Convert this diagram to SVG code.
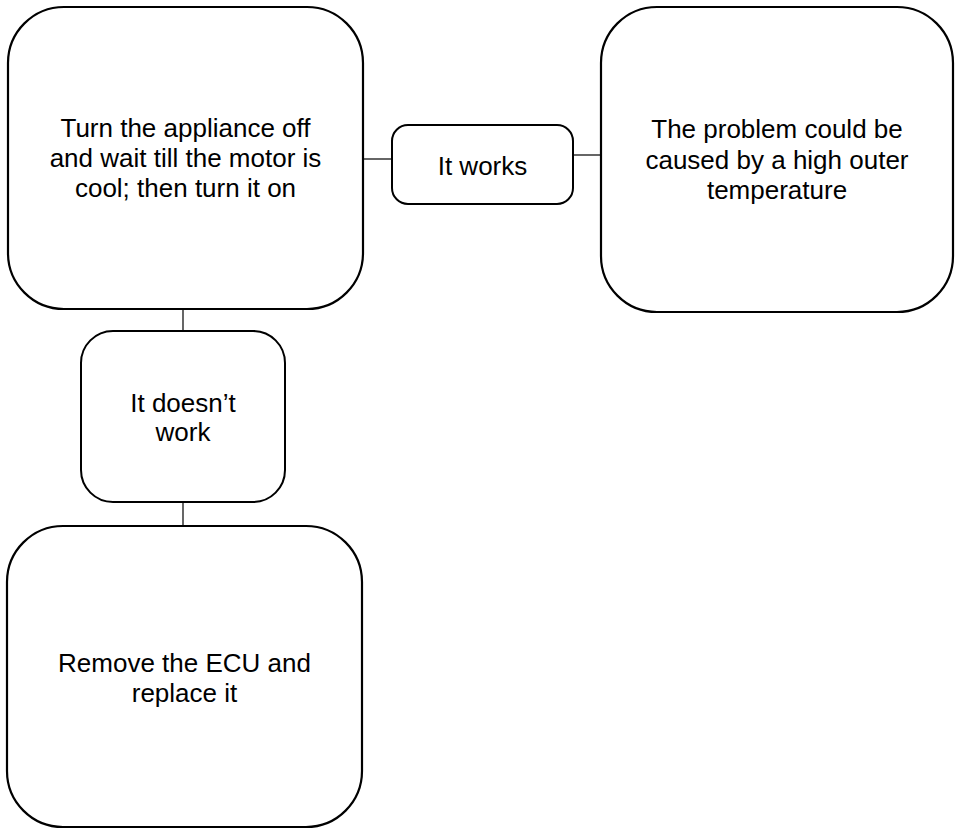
<svg xmlns="http://www.w3.org/2000/svg" width="956" height="829" viewBox="0 0 956 829">
<style>
.box{fill:#fff;stroke:#000;stroke-width:2.2}
.small{fill:#fff;stroke:#000;stroke-width:2}
.t{font-family:"Liberation Sans",Arial,sans-serif;font-size:26px;fill:#000;text-anchor:middle}
.c{stroke:#000;stroke-width:1.2;fill:none}
</style>
<rect width="956" height="829" fill="#fff"/>
<g id="connectors">
<line class="c" x1="363" y1="159" x2="392" y2="159"/>
<line class="c" x1="573" y1="155" x2="601" y2="155"/>
<line class="c" x1="183" y1="309" x2="183" y2="331"/>
<line class="c" x1="183" y1="502" x2="183" y2="526"/>
</g>
<g id="n1">
<rect class="box" x="8" y="7" width="355" height="302" rx="56" ry="56"/>
<text class="t" x="185.5" y="136.7">Turn the appliance off</text>
<text class="t" x="185.5" y="166.7">and wait till the motor is</text>
<text class="t" x="185.5" y="196.7">cool; then turn it on</text>
</g>
<g id="n2">
<rect class="small" x="392" y="125" width="181" height="79" rx="16" ry="16"/>
<text class="t" x="482.5" y="175">It works</text>
</g>
<g id="n3">
<rect class="box" x="601" y="7" width="352" height="305" rx="56" ry="56"/>
<text class="t" x="777" y="138.3">The problem could be</text>
<text class="t" x="777" y="168.8">caused by a high outer</text>
<text class="t" x="777" y="199">temperature</text>
</g>
<g id="n4">
<rect class="small" x="81" y="331" width="204" height="171" rx="32" ry="32"/>
<text class="t" x="183" y="411.7">It doesn’t</text>
<text class="t" x="183" y="440.7">work</text>
</g>
<g id="n5">
<rect class="box" x="7" y="526" width="355" height="301" rx="56" ry="56"/>
<text class="t" x="184.5" y="671.7">Remove the ECU and</text>
<text class="t" x="184.5" y="701.7">replace it</text>
</g>
</svg>
